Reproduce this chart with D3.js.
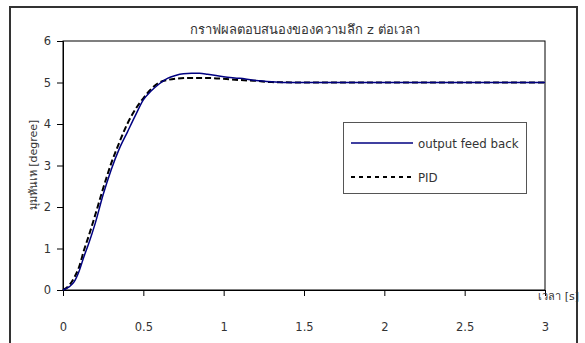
<!DOCTYPE html>
<html>
<head>
<meta charset="utf-8">
<script src="https://cdn.jsdelivr.net/npm/d3@7"></script>
<style>
  html, body { margin: 0; padding: 0; background: #fff; }
  svg text { font-family: "DejaVu Sans", "Noto Sans", sans-serif; fill: #333; }
</style>
</head>
<body>
<svg id="chart" width="585" height="343"></svg>
<script>
// Step response: depth z versus time
const timeFb = [0, 0.04, 0.07, 0.1, 0.13, 0.16, 0.2, 0.25, 0.3, 0.35, 0.4, 0.45, 0.5, 0.55, 0.6, 0.65, 0.7, 0.75, 0.8, 0.85, 0.9, 1.0, 1.1, 1.2, 1.3, 1.4, 1.6, 2.0, 2.5, 3.0];
const outputFeedBack = [0, 0.08, 0.2, 0.45, 0.8, 1.12, 1.6, 2.3, 2.9, 3.4, 3.8, 4.2, 4.58, 4.8, 4.97, 5.1, 5.17, 5.21, 5.22, 5.22, 5.2, 5.14, 5.1, 5.05, 5.02, 5.0, 5.0, 5.0, 5.0, 5.0];

const timePid = [0, 0.04, 0.07, 0.1, 0.13, 0.16, 0.2, 0.25, 0.3, 0.35, 0.4, 0.45, 0.5, 0.55, 0.6, 0.65, 0.7, 0.8, 0.9, 1.0, 1.1, 1.2, 1.3, 1.5, 2.0, 2.5, 3.0];
const pid = [0, 0.12, 0.3, 0.55, 0.95, 1.3, 1.8, 2.45, 3.05, 3.55, 4.0, 4.35, 4.62, 4.85, 5.0, 5.06, 5.09, 5.11, 5.11, 5.09, 5.06, 5.04, 5.01, 5.0, 5.0, 5.0, 5.0];

const xTicks = [0, 0.5, 1, 1.5, 2, 2.5, 3];
const xTickLabels = ["0", "0.5", "1", "1.5", "2", "2.5", "3"];
const yTicks = [0, 1, 2, 3, 4, 5, 6];

const titleText = "กราฟผลตอบสนองของความลึก z ต่อเวลา";
const xTitle = "เวลา [s]";
const yTitle = "มุมหันเห [degree]";
const seriesNames = ["output feed back", "PID"];

const svg = d3.select("#chart");
const plot = { left: 63, top: 41, right: 545, bottom: 290 };

const x = d3.scaleLinear().domain([0, 3]).range([plot.left, plot.right]);
const y = d3.scaleLinear().domain([0, 6]).range([plot.bottom, plot.top]);

// outer chart frame
svg.append("rect")
  .attr("x", 10).attr("y", 7)
  .attr("width", 567).attr("height", 345)
  .attr("fill", "none").attr("stroke", "#333").attr("stroke-width", 2);

// plot area frame
svg.append("rect")
  .attr("x", plot.left).attr("y", plot.top)
  .attr("width", plot.right - plot.left).attr("height", plot.bottom - plot.top)
  .attr("fill", "none").attr("stroke", "#000").attr("stroke-width", 1);

// axes
const xAxis = d3.axisBottom(x).tickValues(xTicks).tickSize(6)
  .tickFormat((d, i) => xTickLabels[i]);
const gx = svg.append("g").attr("transform", `translate(0,${plot.bottom})`).call(xAxis);
gx.select(".domain").attr("stroke", "#000");
gx.selectAll(".tick line").attr("stroke", "#000");
gx.selectAll(".tick text").attr("dy", 0).attr("y", 41)
  .style("font-size", "11.5px").attr("fill", "#333");

const yAxis = d3.axisLeft(y).tickValues(yTicks).tickSize(6).tickFormat(d3.format("d"));
const gy = svg.append("g").attr("transform", `translate(${plot.left},0)`).call(yAxis);
gy.select(".domain").attr("stroke", "#000");
gy.selectAll(".tick line").attr("stroke", "#000");
gy.selectAll(".tick text").attr("x", -12)
  .style("font-size", "11.5px").attr("fill", "#333");

// series lines
const line = d3.line().x(d => x(d[0])).y(d => y(d[1])).curve(d3.curveMonotoneX);
const fbData = timeFb.map((t, i) => [t, outputFeedBack[i]]);
const pidData = timePid.map((t, i) => [t, pid[i]]);

svg.append("path").datum(pidData)
  .attr("d", line)
  .attr("fill", "none").attr("stroke", "#000").attr("stroke-width", 2)
  .attr("stroke-dasharray", "6,3");

svg.append("path").datum(fbData)
  .attr("d", line)
  .attr("fill", "none").attr("stroke", "#000080").attr("stroke-width", 1.5);

// title
svg.append("text")
  .attr("x", 305).attr("y", 34)
  .attr("text-anchor", "middle")
  .style("font-size", "13px")
  .text(titleText);

// axis titles
svg.append("text")
  .attr("x", 579).attr("y", 300)
  .attr("text-anchor", "end")
  .style("font-size", "11px")
  .text(xTitle);

svg.append("text")
  .attr("transform", "translate(37,165) rotate(-90)")
  .attr("text-anchor", "middle")
  .style("font-size", "11px")
  .text(yTitle);

// legend
const legend = svg.append("g");
legend.append("rect")
  .attr("x", 343.5).attr("y", 122.5)
  .attr("width", 183).attr("height", 71)
  .attr("fill", "#fff").attr("stroke", "#555").attr("stroke-width", 1);

legend.append("line")
  .attr("x1", 351).attr("x2", 413).attr("y1", 143).attr("y2", 143)
  .attr("stroke", "#000080").attr("stroke-width", 1.5);
legend.append("text")
  .attr("x", 418).attr("y", 147.5)
  .style("font-size", "11.8px")
  .text(seriesNames[0]);

legend.append("line")
  .attr("x1", 351).attr("x2", 411).attr("y1", 177).attr("y2", 177)
  .attr("stroke", "#000").attr("stroke-width", 2)
  .attr("stroke-dasharray", "4,4");
legend.append("text")
  .attr("x", 418).attr("y", 181.5)
  .style("font-size", "11.8px")
  .text(seriesNames[1]);
</script>
</body>
</html>
